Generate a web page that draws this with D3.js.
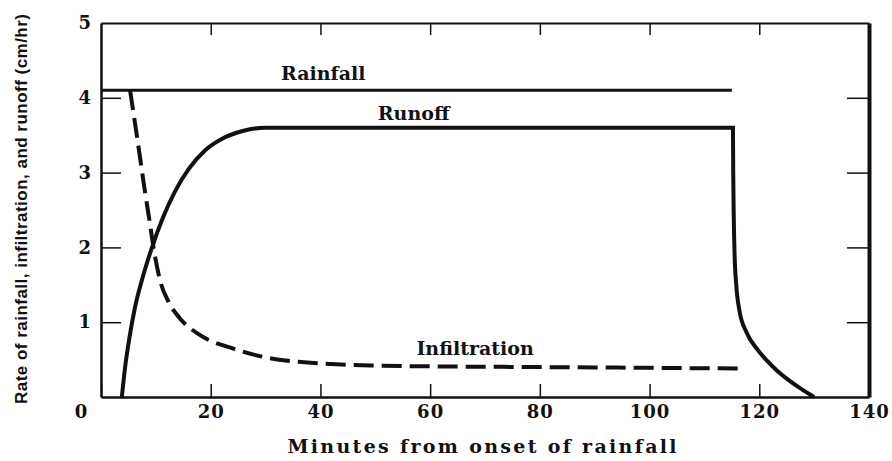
<!DOCTYPE html>
<html>
<head>
<meta charset="utf-8">
<script src="https://cdn.jsdelivr.net/npm/d3@7"></script>
<style>
  body { margin: 0; background: #fff; }
  .axis text { font-family: "DejaVu Serif", serif; font-weight: bold; font-size: 18px; letter-spacing: 1px; fill: #111; }
  .axis line, .axis path { stroke: #111; }
  .lbl { font-family: "DejaVu Serif", serif; font-weight: bold; font-size: 19px; fill: #111; }
</style>
</head>
<body>
<div class="chart"></div>
<script>
// minutes, cm/hr
const rainfall = [[0, 4.1], [115, 4.1]];

const runoff = [
  [3.8, 0], [4.4, 0.4], [5.2, 0.8], [6.2, 1.2], [7.6, 1.6], [9.3, 2.0],
  [11.3, 2.4], [13.5, 2.75], [16, 3.05], [19, 3.3], [22, 3.45], [26, 3.56],
  [30, 3.6], [115.2, 3.6],
  [115.25, 3.0], [115.35, 2.4], [115.5, 1.9], [115.8, 1.5], [116.4, 1.15],
  [117.7, 0.86], [119.4, 0.66], [121.4, 0.485], [123.2, 0.355], [125, 0.245],
  [127.5, 0.115], [130, 0]
];

const infiltration = [
  [5.3, 4.1], [6.2, 3.66], [7.1, 3.21], [8.0, 2.75], [8.9, 2.33], [9.4, 2.08],
  [10.8, 1.55], [12.4, 1.26], [14.4, 1.05], [18, 0.83], [24, 0.65], [30, 0.53],
  [36, 0.47], [42, 0.44], [50, 0.42], [60, 0.41], [80, 0.4], [100, 0.39], [117, 0.38]
];

const xTicks = [0, 20, 40, 60, 80, 100, 120, 140];
const yTicks = [0, 1, 2, 3, 4, 5];

const labels = [
  {text: "Rainfall", t: 40.5, v: 4.1, dy: -10},
  {text: "Runoff", t: 57, v: 3.6, dy: -8},
  {text: "Infiltration", t: 68.2, v: 0.42, dy: -11}
];

function render() {
  const W = 892, H = 461;
  const margin = {top: 23, right: 23, bottom: 64, left: 101};
  const width = W - margin.left - margin.right;
  const height = H - margin.top - margin.bottom;

  const svg = d3.select(".chart").append("svg")
    .attr("width", W).attr("height", H)
    .append("g")
    .attr("transform", `translate(${margin.left},${margin.top})`);

  const x = d3.scaleLinear().domain([0, 140]).range([0, width]);
  const y = d3.scaleLinear().domain([0, 5]).range([height, 0]);

  // axes, ticks point inward
  svg.append("g").attr("class", "axis")
    .attr("transform", `translate(0,${height})`)
    .call(d3.axisBottom(x).tickValues(xTicks).tickSizeInner(-13).tickSizeOuter(0).tickPadding(8))
    .call(g => g.select(".domain").attr("stroke-width", 2.5))
    .call(g => g.selectAll(".tick").filter(d => d === 0).select("text").attr("dx", -20));
  svg.append("g").attr("class", "axis")
    .call(d3.axisTop(x).tickValues(xTicks.slice(1, -1)).tickSizeInner(-12).tickSizeOuter(0).tickFormat(""))
    .call(g => g.select(".domain").attr("stroke-width", 2));
  svg.append("g").attr("class", "axis")
    .call(d3.axisLeft(y).tickValues(yTicks.slice(1)).tickSizeInner(-20).tickSizeOuter(0).tickPadding(9).tickFormat(d3.format("d")))
    .call(g => g.select(".domain").attr("stroke-width", 2.5))
    .call(g => g.selectAll(".tick").filter(d => d === 5).select("line").remove());
  svg.append("g").attr("class", "axis")
    .attr("transform", `translate(${width},0)`)
    .call(d3.axisRight(y).tickValues(yTicks.slice(1, -1)).tickSizeInner(-22).tickSizeOuter(0).tickFormat(""))
    .call(g => g.select(".domain").attr("stroke-width", 4));
  svg.selectAll(".axis .tick line").attr("stroke-width", 1.5);

  const line = d3.line().x(d => x(d[0])).y(d => y(d[1]));

  svg.append("path").datum(rainfall)
    .attr("fill", "none").attr("stroke", "#111").attr("stroke-width", 3)
    .attr("d", line);

  svg.append("path").datum(runoff)
    .attr("fill", "none").attr("stroke", "#111").attr("stroke-width", 4)
    .attr("d", line.curve(d3.curveMonotoneX));

  svg.append("path").datum(infiltration)
    .attr("fill", "none").attr("stroke", "#111").attr("stroke-width", 4)
    .attr("stroke-dasharray", "20,8")
    .attr("d", line.curve(d3.curveMonotoneX));

  svg.selectAll(".lbl")
    .data(labels)
    .enter()
    .append("text")
    .attr("class", "lbl")
    .attr("x", d => x(d.t))
    .attr("y", d => y(d.v) + d.dy)
    .attr("text-anchor", "middle")
    .text(d => d.text);

  svg.append("text")
    .attr("x", 381)
    .attr("y", height + 56)
    .attr("text-anchor", "middle")
    .attr("textLength", 389)
    .style("font-family", "DejaVu Serif, serif")
    .style("font-weight", "bold")
    .style("font-size", "19px")
    .style("fill", "#111")
    .text("Minutes from onset of rainfall");

  svg.append("text")
    .attr("transform", "rotate(-90)")
    .attr("x", -186)
    .attr("y", -74)
    .attr("text-anchor", "middle")
    .attr("textLength", 390)
    .style("font-family", "Liberation Sans Narrow, Liberation Sans, sans-serif")
    .style("font-weight", "bold")
    .style("font-size", "17px")
    .style("fill", "#111")
    .text("Rate of rainfall, infiltration, and runoff (cm/hr)");
}

render();
</script>
</body>
</html>
